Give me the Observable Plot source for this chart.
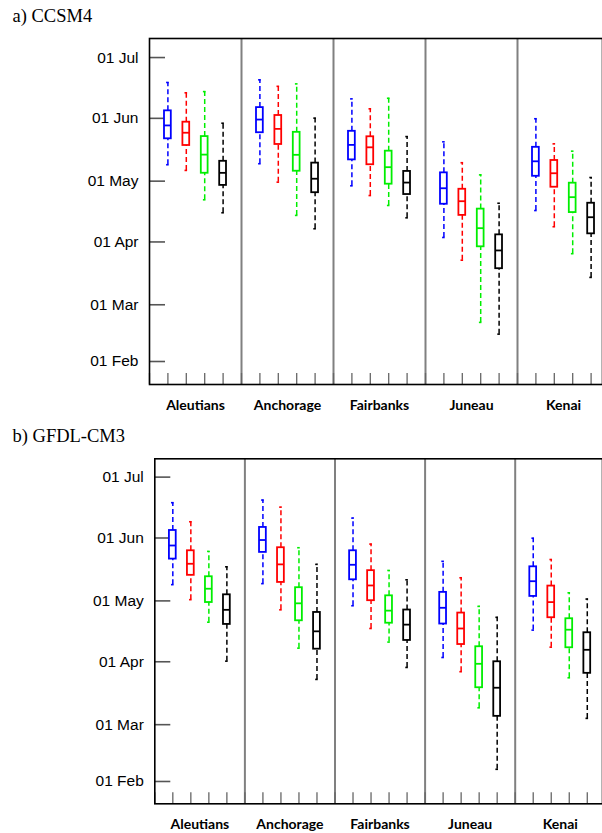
<!DOCTYPE html>
<html>
<head>
<meta charset="utf-8">
<script src="https://cdn.jsdelivr.net/npm/d3@7"></script>
<script src="https://cdn.jsdelivr.net/npm/@observablehq/plot@0.6"></script>
<style>
  html, body { margin: 0; padding: 0; background: #fff; overflow: hidden; }
  #wrap { position: relative; width: 602px; height: 833px; }
  .title { position: absolute; left: 12.5px; font-family: "Liberation Serif", "Times New Roman", serif; font-size: 18.5px; line-height: 18.5px; color: #000; white-space: nowrap; }
  .panel { position: absolute; left: 0; }
</style>
</head>
<body>
<div id="wrap"></div>
<script>
// Categories
const regions = ["Aleutians", "Anchorage", "Fairbanks", "Juneau", "Kenai"];
const scenarios = ["s1", "s2", "s3", "s4"];
const scenarioColors = ["#0000ff", "#ff0000", "#00ee00", "#000000"];

// Y ticks (day of year) and labels
const yTickValues = [32, 60, 91, 121, 152, 182];
const yTickLabels = ["01 Feb", "01 Mar", "01 Apr", "01 May", "01 Jun", "01 Jul"];

// Box statistics, day of year: [low whisker, Q1, median, Q3, high whisker]
// order: region by region, scenarios s1..s4 within each region
const ccsm4Stats = [
  [129.1, 141.9, 148.5, 155.7, 169.7],
  [126.3, 138.6, 144.9, 150.1, 164.6],
  [111.8, 124.9, 134.1, 143.0, 165.2],
  [105.4, 118.9, 125.1, 130.8, 149.6],
  [129.6, 144.9, 151.4, 157.3, 171.0],
  [120.5, 139.1, 146.8, 153.4, 167.8],
  [104.1, 125.9, 134.0, 145.1, 169.0],
  [97.5, 115.3, 122.2, 129.9, 152.1],
  [118.7, 131.5, 138.9, 145.6, 161.6],
  [113.9, 129.1, 137.7, 142.9, 156.7],
  [109.0, 119.5, 127.9, 135.8, 161.9],
  [102.9, 114.4, 120.3, 125.8, 143.0],
  [93.2, 109.6, 117.5, 125.1, 140.4],
  [82.0, 104.1, 111.1, 117.0, 130.1],
  [51.3, 88.6, 97.8, 107.2, 124.1],
  [45.5, 77.8, 86.8, 94.5, 110.1],
  [106.5, 123.4, 130.8, 137.7, 151.8],
  [98.5, 118.0, 124.9, 131.2, 139.4],
  [85.2, 105.5, 113.1, 120.0, 135.8],
  [73.5, 95.0, 103.2, 110.1, 122.8]
];
const gfdlStats = [
  [129.0, 141.6, 148.3, 155.7, 169.4],
  [121.6, 133.6, 139.3, 145.7, 160.0],
  [110.5, 120.2, 127.0, 132.9, 145.4],
  [91.3, 109.4, 116.6, 124.0, 137.8],
  [129.5, 144.9, 151.0, 157.2, 170.7],
  [116.6, 130.1, 139.0, 147.2, 167.2],
  [97.7, 111.2, 119.8, 127.5, 147.2],
  [82.3, 97.2, 106.0, 115.3, 139.0],
  [118.6, 131.4, 138.8, 145.7, 161.8],
  [107.4, 121.1, 128.6, 135.9, 149.0],
  [100.7, 110.0, 116.2, 123.5, 136.0],
  [88.2, 101.5, 109.3, 116.5, 131.4],
  [93.1, 109.6, 117.6, 125.2, 140.5],
  [86.1, 99.5, 107.4, 115.0, 132.4],
  [68.3, 78.2, 90.0, 98.4, 118.3],
  [38.0, 64.1, 78.2, 91.0, 112.9],
  [106.6, 123.2, 130.7, 137.8, 151.9],
  [98.2, 112.7, 120.4, 128.3, 141.4],
  [83.1, 97.9, 106.8, 112.2, 125.0],
  [63.1, 85.3, 96.9, 105.3, 121.9]
];

function toRows(stats) {
  return stats.map((s, i) => {
    const r = Math.floor(i / scenarios.length), k = i % scenarios.length;
    return {region: regions[r], scen: scenarios[k], slot: r * 5 + k + 1,
            lo: s[0], q1: s[1], med: s[2], q3: s[3], hi: s[4]};
  });
}

function panel(stats, {height, xRange, yDomain, yRange}) {
  const rows = toRows(stats);
  const allSlots = d3.range(0, regions.length * 5 + 1);
  const dividers = d3.range(1, regions.length + 1).map(i => i * 5);
  const centers = regions.map((r, i) => ({region: r, c: i * 5 + 2.5}));
  const yMin = yDomain[0];
  const sw = 1.8;
  return Plot.plot({
    width: 602,
    height,
    marginTop: yRange[1],
    marginBottom: height - yRange[0],
    marginLeft: xRange[0],
    marginRight: 0,
    style: {fontFamily: "'Liberation Sans', Arial, sans-serif", fontSize: "15.5px", color: "#000", background: "transparent", overflow: "visible"},
    x: {domain: [0, regions.length * 5], range: xRange, axis: null},
    y: {domain: yDomain, range: yRange, axis: null},
    color: {domain: scenarios, range: scenarioColors},
    marks: [
      // divider lines between regions
      Plot.ruleX(dividers, {x: d => d, stroke: "#808080", strokeWidth: 2}),
      // bottom inward ticks
      Plot.ruleX(allSlots, {x: d => d, y1: yMin, y2: yMin, insetTop: -11, stroke: "#666", strokeWidth: 1.3}),
      // left inward y ticks
      Plot.ruleY(yTickValues, {y: d => d, x1: 0, x2: 0, insetRight: -16, stroke: "#555", strokeWidth: 1.6}),
      // y tick labels
      Plot.axisY({ticks: yTickValues, tickSize: 0, tickPadding: 11,
        tickFormat: d => yTickLabels[yTickValues.indexOf(d)], fontSize: 15.5,
        fontFamily: "'Liberation Sans', Arial, sans-serif", fill: "#000", label: null}),
      // whiskers
      Plot.ruleX(rows, {x: "slot", y1: "q3", y2: "hi", stroke: "scen", strokeWidth: 1.5, strokeDasharray: "5,3"}),
      Plot.ruleX(rows, {x: "slot", y1: "lo", y2: "q1", stroke: "scen", strokeWidth: 1.5, strokeDasharray: "5,3"}),
      // whisker caps
      Plot.ruleY(rows, {y: "hi", x1: "slot", x2: "slot", insetLeft: -1.3, insetRight: -1.3, stroke: "scen", strokeWidth: 1.6}),
      Plot.ruleY(rows, {y: "lo", x1: "slot", x2: "slot", insetLeft: -1.3, insetRight: -1.3, stroke: "scen", strokeWidth: 1.6}),
      // boxes
      Plot.rect(rows, {x1: "slot", x2: "slot", y1: "q1", y2: "q3", insetLeft: -3.4, insetRight: -3.4, fill: "white", stroke: "scen", strokeWidth: sw}),
      // medians
      Plot.ruleY(rows, {y: "med", x1: "slot", x2: "slot", insetLeft: -3.4, insetRight: -3.4, stroke: "scen", strokeWidth: sw}),
      // frame
      Plot.frame({stroke: "#000", strokeWidth: 1.6}),
      // region labels
      Plot.text(centers, {x: "c", frameAnchor: "bottom", dy: 25.5, lineAnchor: "bottom", text: "region",
        fontFamily: "Lato, 'Open Sans', sans-serif", fontWeight: "bold", fontSize: 14, fill: "#000"})
    ]
  });
}

const wrap = document.getElementById("wrap");

const tA = document.createElement("div");
tA.className = "title"; tA.style.top = "6.5px"; tA.textContent = "a) CCSM4";
wrap.appendChild(tA);

const pA = panel(ccsm4Stats, {height: 415, xRange: [149, 609], yDomain: [20.65, 191.4], yRange: [384, 38]});
pA.classList.add("panel"); pA.style.top = "0px";
wrap.appendChild(pA);

const tB = document.createElement("div");
tB.className = "title"; tB.style.top = "427px"; tB.textContent = "b) GFDL-CM3";
wrap.appendChild(tB);

const pB = panel(gfdlStats, {height: 423, xRange: [154.3, 604.8], yDomain: [21, 191.03], yRange: [393.3, 48.3]});
pB.classList.add("panel"); pB.style.top = "410px";
wrap.appendChild(pB);
</script>
</body>
</html>
